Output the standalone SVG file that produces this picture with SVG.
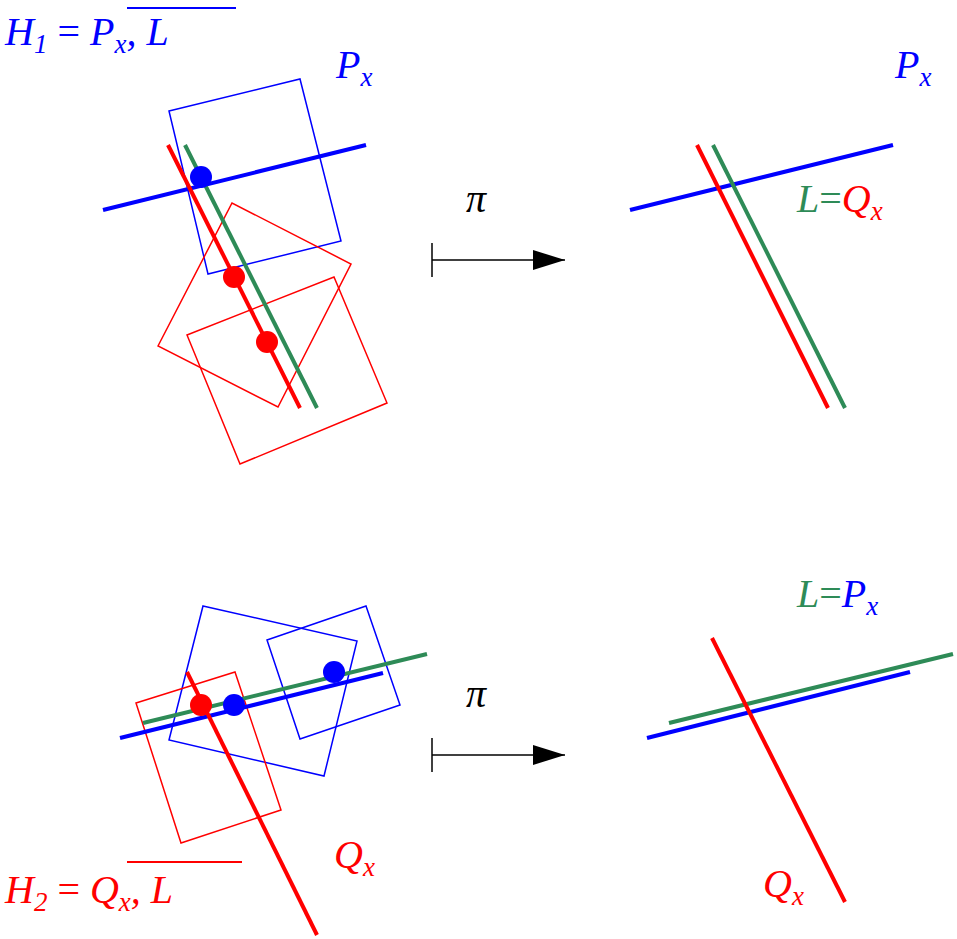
<svg xmlns="http://www.w3.org/2000/svg" width="957" height="939" viewBox="0 0 957 939">
<style>
.t{font-family:"Liberation Serif",serif;font-style:italic;font-size:40px}
.s{font-size:27px}
.u{font-style:normal}
.b{fill:#0000ff}.r{fill:#ff0000}.g{fill:#2e8b57}
.sq{fill:none;stroke-width:1.5}
.ln{stroke-width:4;fill:none}
</style>
<defs><marker id="ah" markerWidth="32" markerHeight="20" refX="32" refY="10" orient="auto" markerUnits="userSpaceOnUse"><path d="M0,0 L32,10 L0,20 Z" fill="#000"/></marker></defs>
<rect width="957" height="939" fill="#fff"/>
<g id="top-left">
<polygon class="sq" stroke="#00f" points="169,111 300,79 341,241 208,274"/>
<polygon class="sq" stroke="#f00" points="158,346 232,203 351,264 278,407"/>
<polygon class="sq" stroke="#f00" points="187,335 334,277 387,403 240,464"/>
<line class="ln" stroke="#00f" x1="103" y1="210" x2="366" y2="145"/>
<line class="ln" stroke="#2e8b57" x1="185" y1="145" x2="317" y2="408"/>
<line class="ln" stroke="#f00" x1="168" y1="145" x2="300" y2="408"/>
<circle cx="201" cy="177" r="11" fill="#00f"/>
<circle cx="234" cy="277" r="11" fill="#f00"/>
<circle cx="267" cy="342" r="11" fill="#f00"/>
<text class="t b" x="5" y="45">H<tspan class="s" dy="8">1</tspan><tspan class="u" dy="-8"> = </tspan>P<tspan class="s" dy="8">x</tspan><tspan dy="-8">, L</tspan></text>
<line x1="127" y1="8" x2="236" y2="8" stroke="#00f" stroke-width="2"/>
<text class="t b" x="336" y="78">P<tspan class="s" dy="8">x</tspan></text>
</g>
<g id="top-right">
<line class="ln" stroke="#00f" x1="630" y1="210" x2="893" y2="145"/>
<line class="ln" stroke="#f00" x1="697" y1="145" x2="828" y2="408"/>
<line class="ln" stroke="#2e8b57" x1="713" y1="145" x2="845" y2="408"/>
<text class="t" x="797" y="212"><tspan class="g">L</tspan><tspan class="g u">=</tspan><tspan class="r">Q</tspan><tspan class="r s" dy="8">x</tspan></text>
<text class="t b" x="895" y="78">P<tspan class="s" dy="8">x</tspan></text>
</g>
<g id="bottom-left">
<polygon class="sq" stroke="#00f" points="203,606 357,641 324,776 169,740"/>
<polygon class="sq" stroke="#00f" points="267,640 366,606 400,705 300,739"/>
<polygon class="sq" stroke="#f00" points="136,703 235,672 281,810 181,843"/>
<line class="ln" stroke="#2e8b57" x1="143" y1="723" x2="427" y2="654"/>
<line class="ln" stroke="#00f" x1="120" y1="738" x2="383" y2="673"/>
<line class="ln" stroke="#f00" x1="187" y1="672" x2="317" y2="935"/>
<circle cx="201" cy="705" r="11" fill="#f00"/>
<circle cx="234" cy="705" r="11" fill="#00f"/>
<circle cx="334" cy="672" r="11" fill="#00f"/>
<text class="t r" x="5" y="903">H<tspan class="s" dy="8">2</tspan><tspan class="u" dy="-8"> = </tspan>Q<tspan class="s" dy="8">x</tspan><tspan dy="-8">, L</tspan></text>
<line x1="127" y1="862" x2="242" y2="862" stroke="#f00" stroke-width="2"/>
<text class="t r" x="334" y="868">Q<tspan class="s" dy="8">x</tspan></text>
</g>
<g id="bottom-right">
<line class="ln" stroke="#2e8b57" x1="669" y1="723" x2="953" y2="654"/>
<line class="ln" stroke="#00f" x1="647" y1="738" x2="910" y2="672"/>
<line class="ln" stroke="#f00" x1="712" y1="638" x2="845" y2="902"/>
<text class="t" x="797" y="607"><tspan class="g">L</tspan><tspan class="g u">=</tspan><tspan class="b">P</tspan><tspan class="b s" dy="8">x</tspan></text>
<text class="t r" x="763" y="897">Q<tspan class="s" dy="8">x</tspan></text>
</g>
<g id="connectors" stroke="#000" stroke-width="1.5">
<line x1="432" y1="243" x2="432" y2="277"/>
<line x1="432" y1="260" x2="565" y2="260" marker-end="url(#ah)"/>
<line x1="432" y1="738" x2="432" y2="772"/>
<line x1="432" y1="755" x2="565" y2="755" marker-end="url(#ah)"/>
</g>
<text class="t" x="466" y="212" stroke="none">π</text>
<text class="t" x="466" y="707" stroke="none">π</text>
</svg>
